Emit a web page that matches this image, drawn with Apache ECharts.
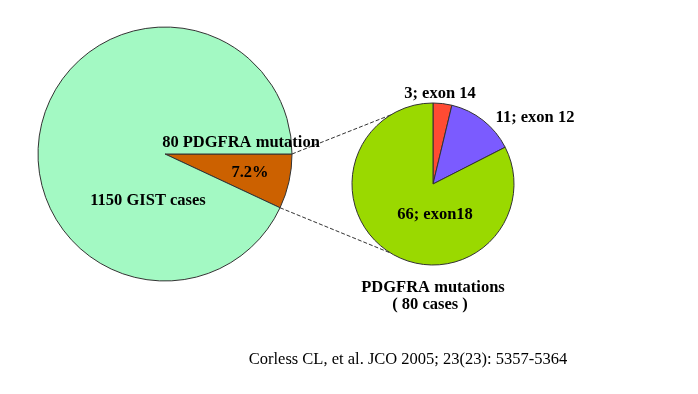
<!DOCTYPE html>
<html>
<head>
<meta charset="utf-8">
<script src="https://cdn.jsdelivr.net/npm/echarts@6/dist/echarts.min.js"></script>
<style>html,body{margin:0;padding:0;background:#fff}#c{width:698px;height:394px}</style>
</head>
<body>
<div id="c"></div>
<script>
// ---- data ----
const overviewNames = ['PDGFRA mutation', 'Other GIST'];
const overviewValues = [80, 1070];
const overviewLabels = ['7.2%', '1150 GIST cases'];
const overviewCaption = '80 PDGFRA mutation';

const mutationNames = ['exon 14', 'exon 12', 'exon18'];
const mutationValues = [3, 11, 66];
const mutationLabels = ['3; exon 14', '11; exon 12', '66; exon18'];
const mutationTitle = ['PDGFRA mutations', '( 80 cases )'];

const citation = 'Corless CL, et al. JCO 2005; 23(23): 5357-5364';

// ---- layout / style ----
const FONT = '"Liberation Serif", "Times New Roman", serif';
const bigC = [165, 154], bigR = 127;
const smallC = [433, 184], smallR = 81;
const overviewColors = ['#CC6100', '#A3F9C3'];
const mutationColors = ['#FF4B33', '#7B5BFF', '#9AD900'];
const overviewLabelPos = [[250, 173], [148, 201]];
const mutationLabelPos = [[440, 94], [535, 118], [435, 215]];

const chart = echarts.init(document.getElementById('c'), null, {renderer: 'canvas'});

// connector lines computed from pie geometry
const total = overviewValues.reduce((a, b) => a + b, 0);
const sliceAng = overviewValues[0] / total * 2 * Math.PI;
function pt(c, r, ang) { return [c[0] + r * Math.cos(ang), c[1] - r * Math.sin(ang)]; }
const p1 = pt(bigC, bigR, 0), p2 = pt(bigC, bigR, -sliceAng);
const endAng = 121.5 * Math.PI / 180;
const q1 = pt(smallC, smallR, endAng), q2 = pt(smallC, smallR, -endAng);

const labelStyle = {fontFamily: FONT, fontWeight: 'bold', fontSize: 16.5, color: '#000'};

chart.setOption({
  backgroundColor: '#fff',
  animation: false,
  series: [
    {
      type: 'pie', center: bigC, radius: bigR, startAngle: 0, clockwise: true,
      silent: true,
      itemStyle: {borderColor: '#333', borderWidth: 1},
      label: Object.assign({show: true, position: 'inside',
        formatter: p => overviewLabels[p.dataIndex]}, labelStyle),
      labelLine: {show: false},
      labelLayout: p => ({x: overviewLabelPos[p.dataIndex][0], y: overviewLabelPos[p.dataIndex][1], align: 'center', verticalAlign: 'middle'}),
      data: overviewValues.map((v, i) => ({name: overviewNames[i], value: v, itemStyle: {color: overviewColors[i]}}))
    },
    {
      type: 'pie', center: smallC, radius: smallR, startAngle: 90, clockwise: true,
      silent: true,
      itemStyle: {borderColor: '#333', borderWidth: 1},
      label: Object.assign({show: true, position: 'inside',
        formatter: p => mutationLabels[p.dataIndex]}, labelStyle),
      labelLine: {show: false},
      labelLayout: p => ({x: mutationLabelPos[p.dataIndex][0], y: mutationLabelPos[p.dataIndex][1], align: 'center', verticalAlign: 'middle'}),
      data: mutationValues.map((v, i) => ({name: mutationNames[i], value: v, itemStyle: {color: mutationColors[i]}}))
    }
  ],
  graphic: [
    {type: 'line', z: 100, shape: {x1: p1[0], y1: p1[1], x2: q1[0], y2: q1[1]}, style: {stroke: '#333', lineWidth: 1, lineDash: [4, 2]}},
    {type: 'line', z: 100, shape: {x1: p2[0], y1: p2[1], x2: q2[0], y2: q2[1]}, style: {stroke: '#333', lineWidth: 1, lineDash: [4, 2]}},
    {type: 'text', z: 101, x: 241, y: 143, style: {text: overviewCaption, font: 'bold 16.5px ' + FONT, fill: '#000', align: 'center', verticalAlign: 'middle'}},
    {type: 'text', z: 101, x: 433, y: 288, style: {text: mutationTitle[0], font: 'bold 16.5px ' + FONT, fill: '#000', align: 'center', verticalAlign: 'middle'}},
    {type: 'text', z: 101, x: 430, y: 305, style: {text: mutationTitle[1], font: 'bold 16.5px ' + FONT, fill: '#000', align: 'center', verticalAlign: 'middle'}},
    {type: 'text', z: 101, x: 408, y: 360, style: {text: citation, font: '16.5px ' + FONT, fill: '#000', align: 'center', verticalAlign: 'middle'}}
  ]
});
</script>
</body>
</html>
